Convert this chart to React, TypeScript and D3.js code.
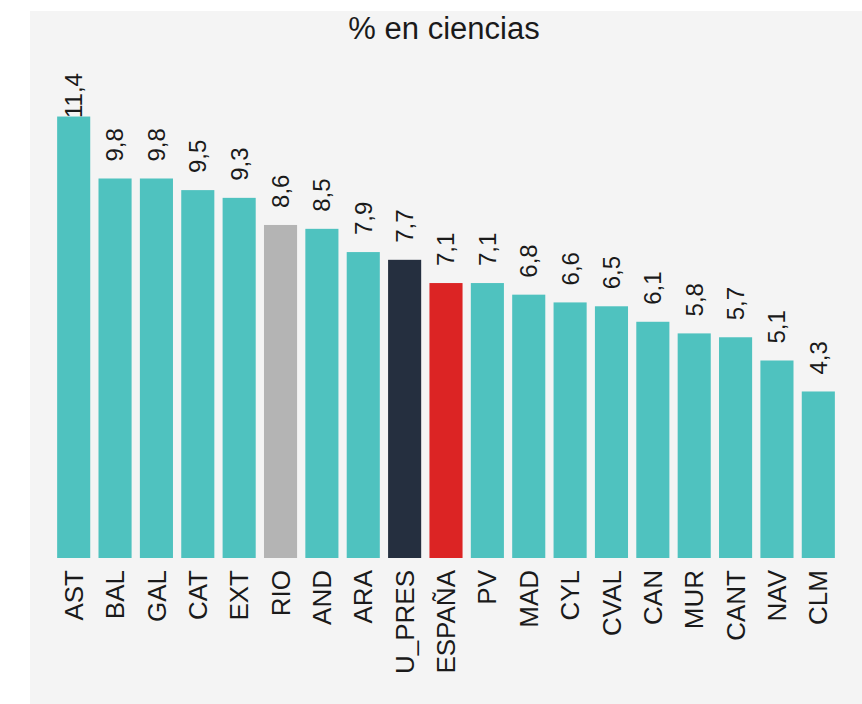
import React, { useEffect, useRef } from 'react';
import * as d3 from 'd3';

// regions, ordered as in the chart
const regions = ['AST', 'BAL', 'GAL', 'CAT', 'EXT', 'RIO', 'AND', 'ARA', 'U_PRES', 'ESPAÑA',
  'PV', 'MAD', 'CYL', 'CVAL', 'CAN', 'MUR', 'CANT', 'NAV', 'CLM'];
const values = [11.4, 9.8, 9.8, 9.5, 9.3, 8.6, 8.5, 7.9, 7.7, 7.1,
  7.1, 6.8, 6.6, 6.5, 6.1, 5.8, 5.7, 5.1, 4.3];
const highlight: { [k: string]: string } = { RIO: '#b4b4b4', U_PRES: '#252f3f', 'ESPAÑA': '#dc2424' };
const title = '% en ciencias';

const W = 862;
const H = 704;
const FONT = 'Arial, "Liberation Sans", Helvetica, sans-serif';

export default function App() {
  const ref = useRef<SVGSVGElement>(null);

  useEffect(() => {
    const svg = d3.select(ref.current);
    svg.selectAll('*').remove();

    svg.append('rect').attr('x', 30).attr('y', 11).attr('width', W - 30).attr('height', H - 11)
      .attr('fill', '#f4f4f4');

    const x = d3.scaleBand<string>().domain(regions).range([53, 839]).paddingInner(0.2).paddingOuter(0.1);
    const y = d3.scaleLinear().domain([0, 12.55]).range([558, 72]);

    const data = regions.map((r, i) => ({ name: r, value: values[i] }));

    svg.append('g').selectAll('rect').data(data).enter().append('rect')
      .attr('x', d => x(d.name)!)
      .attr('width', x.bandwidth())
      .attr('y', d => y(d.value))
      .attr('height', d => y(0) - y(d.value))
      .attr('fill', d => highlight[d.name] || '#4fc2bf');

    // value labels, rotated, above each bar (pushed down when they'd leave the plot top)
    svg.append('g').selectAll('text').data(data).enter().append('text')
      .attr('transform', d => {
        const cx = x(d.name)! + x.bandwidth() / 2;
        const ty = Math.max(y(d.value) - 17, 118);
        return `translate(${cx},${ty}) rotate(-90)`;
      })
      .attr('dy', '0.35em')
      .attr('text-anchor', 'start')
      .attr('font-family', FONT)
      .attr('font-size', 24)
      .attr('fill', '#1a1a1a')
      .text(d => d.value.toFixed(1).replace('.', ','));

    // category labels
    svg.append('g').selectAll('text').data(data).enter().append('text')
      .attr('transform', d => `translate(${x(d.name)! + x.bandwidth() / 2},570) rotate(-90)`)
      .attr('dy', '0.35em')
      .attr('text-anchor', 'end')
      .attr('font-family', FONT)
      .attr('font-size', 26)
      .attr('fill', '#1a1a1a')
      .text(d => d.name);

    svg.append('text')
      .attr('x', 444).attr('y', 39)
      .attr('text-anchor', 'middle')
      .attr('font-family', FONT)
      .attr('font-size', 31)
      .attr('fill', '#1a1a1a')
      .text(title);
  }, []);

  return (
    <svg ref={ref} width={W} height={H}
      style={{ position: 'absolute', left: 0, top: 0, background: '#ffffff' }} />
  );
}
